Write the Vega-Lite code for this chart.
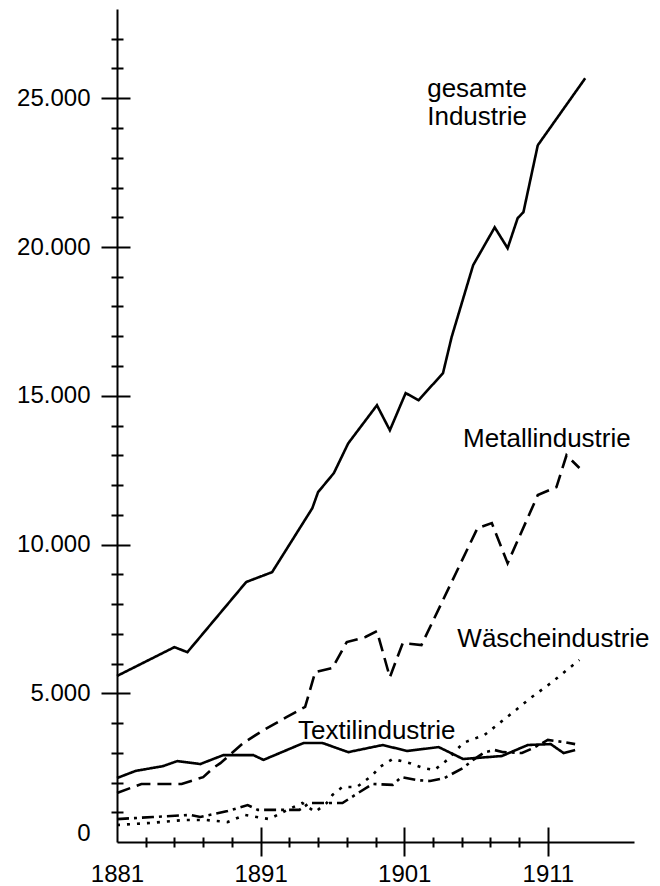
{
  "$schema": "https://vega.github.io/schema/vega-lite/v6.json",
  "width": 517,
  "height": 833,
  "autosize": "none",
  "padding": {"left": 117, "top": 9, "right": 26, "bottom": 44},
  "background": "white",
  "config": {
    "view": {"stroke": null},
    "axis": {"grid": false, "domainColor": "black", "tickColor": "black", "labelColor": "black", "domainWidth": 2, "tickWidth": 2, "title": null}
  },
  "datasets": {
    "series": [
      {"series": "gesamte Industrie", "year": 1881, "value": 5580},
      {"series": "gesamte Industrie", "year": 1885, "value": 6550},
      {"series": "gesamte Industrie", "year": 1885.9, "value": 6380},
      {"series": "gesamte Industrie", "year": 1890, "value": 8740},
      {"series": "gesamte Industrie", "year": 1891.8, "value": 9070},
      {"series": "gesamte Industrie", "year": 1894.6, "value": 11220},
      {"series": "gesamte Industrie", "year": 1895, "value": 11760},
      {"series": "gesamte Industrie", "year": 1896.1, "value": 12400},
      {"series": "gesamte Industrie", "year": 1897.1, "value": 13400},
      {"series": "gesamte Industrie", "year": 1899.1, "value": 14680},
      {"series": "gesamte Industrie", "year": 1900, "value": 13840},
      {"series": "gesamte Industrie", "year": 1901.1, "value": 15090},
      {"series": "gesamte Industrie", "year": 1902, "value": 14850},
      {"series": "gesamte Industrie", "year": 1903.7, "value": 15760},
      {"series": "gesamte Industrie", "year": 1904.3, "value": 16970},
      {"series": "gesamte Industrie", "year": 1905.8, "value": 19390},
      {"series": "gesamte Industrie", "year": 1907.3, "value": 20660},
      {"series": "gesamte Industrie", "year": 1908.2, "value": 19960},
      {"series": "gesamte Industrie", "year": 1908.9, "value": 20970},
      {"series": "gesamte Industrie", "year": 1909.3, "value": 21170},
      {"series": "gesamte Industrie", "year": 1910.3, "value": 23420},
      {"series": "gesamte Industrie", "year": 1913.6, "value": 25670},

      {"series": "Metallindustrie", "year": 1881, "value": 1650},
      {"series": "Metallindustrie", "year": 1882.7, "value": 1950},
      {"series": "Metallindustrie", "year": 1885.5, "value": 1950},
      {"series": "Metallindustrie", "year": 1887, "value": 2180},
      {"series": "Metallindustrie", "year": 1887.7, "value": 2490},
      {"series": "Metallindustrie", "year": 1888.2, "value": 2650},
      {"series": "Metallindustrie", "year": 1889.8, "value": 3330},
      {"series": "Metallindustrie", "year": 1891, "value": 3700},
      {"series": "Metallindustrie", "year": 1892.8, "value": 4200},
      {"series": "Metallindustrie", "year": 1894.1, "value": 4540},
      {"series": "Metallindustrie", "year": 1894.8, "value": 5710},
      {"series": "Metallindustrie", "year": 1896, "value": 5850},
      {"series": "Metallindustrie", "year": 1897, "value": 6720},
      {"series": "Metallindustrie", "year": 1898.3, "value": 6890},
      {"series": "Metallindustrie", "year": 1899.1, "value": 7090},
      {"series": "Metallindustrie", "year": 1900, "value": 5540},
      {"series": "Metallindustrie", "year": 1900.9, "value": 6690},
      {"series": "Metallindustrie", "year": 1902.2, "value": 6620},
      {"series": "Metallindustrie", "year": 1906.1, "value": 10550},
      {"series": "Metallindustrie", "year": 1907.1, "value": 10720},
      {"series": "Metallindustrie", "year": 1908.2, "value": 9370},
      {"series": "Metallindustrie", "year": 1910.3, "value": 11660},
      {"series": "Metallindustrie", "year": 1911.6, "value": 11930},
      {"series": "Metallindustrie", "year": 1912.3, "value": 13000},
      {"series": "Metallindustrie", "year": 1913.2, "value": 12570},

      {"series": "Textilindustrie", "year": 1881, "value": 2150},
      {"series": "Textilindustrie", "year": 1882.3, "value": 2390},
      {"series": "Textilindustrie", "year": 1884.2, "value": 2550},
      {"series": "Textilindustrie", "year": 1885.2, "value": 2720},
      {"series": "Textilindustrie", "year": 1886.8, "value": 2620},
      {"series": "Textilindustrie", "year": 1888.4, "value": 2920},
      {"series": "Textilindustrie", "year": 1890.5, "value": 2920},
      {"series": "Textilindustrie", "year": 1891.2, "value": 2760},
      {"series": "Textilindustrie", "year": 1894, "value": 3330},
      {"series": "Textilindustrie", "year": 1895.3, "value": 3330},
      {"series": "Textilindustrie", "year": 1897.1, "value": 3020},
      {"series": "Textilindustrie", "year": 1899.5, "value": 3260},
      {"series": "Textilindustrie", "year": 1901.2, "value": 3060},
      {"series": "Textilindustrie", "year": 1903.4, "value": 3190},
      {"series": "Textilindustrie", "year": 1905.1, "value": 2790},
      {"series": "Textilindustrie", "year": 1907.8, "value": 2890},
      {"series": "Textilindustrie", "year": 1909.6, "value": 3260},
      {"series": "Textilindustrie", "year": 1911.2, "value": 3290},
      {"series": "Textilindustrie", "year": 1912.1, "value": 2990},
      {"series": "Textilindustrie", "year": 1912.9, "value": 3090},

      {"series": "Wäscheindustrie", "year": 1881, "value": 570},
      {"series": "Wäscheindustrie", "year": 1883.3, "value": 640},
      {"series": "Wäscheindustrie", "year": 1885.7, "value": 740},
      {"series": "Wäscheindustrie", "year": 1887.2, "value": 740},
      {"series": "Wäscheindustrie", "year": 1888.7, "value": 670},
      {"series": "Wäscheindustrie", "year": 1889.9, "value": 910},
      {"series": "Wäscheindustrie", "year": 1891.6, "value": 770},
      {"series": "Wäscheindustrie", "year": 1893, "value": 1110},
      {"series": "Wäscheindustrie", "year": 1893.9, "value": 1310},
      {"series": "Wäscheindustrie", "year": 1894.8, "value": 1010},
      {"series": "Wäscheindustrie", "year": 1895.6, "value": 1310},
      {"series": "Wäscheindustrie", "year": 1896, "value": 1580},
      {"series": "Wäscheindustrie", "year": 1896.7, "value": 1850},
      {"series": "Wäscheindustrie", "year": 1897.7, "value": 1850},
      {"series": "Wäscheindustrie", "year": 1898.8, "value": 2250},
      {"series": "Wäscheindustrie", "year": 1899.3, "value": 2520},
      {"series": "Wäscheindustrie", "year": 1900.2, "value": 2790},
      {"series": "Wäscheindustrie", "year": 1901.4, "value": 2650},
      {"series": "Wäscheindustrie", "year": 1902.3, "value": 2490},
      {"series": "Wäscheindustrie", "year": 1903.1, "value": 2420},
      {"series": "Wäscheindustrie", "year": 1904, "value": 2760},
      {"series": "Wäscheindustrie", "year": 1905.1, "value": 3330},
      {"series": "Wäscheindustrie", "year": 1906.6, "value": 3600},
      {"series": "Wäscheindustrie", "year": 1908.6, "value": 4370},
      {"series": "Wäscheindustrie", "year": 1909.8, "value": 4840},
      {"series": "Wäscheindustrie", "year": 1911.2, "value": 5340},
      {"series": "Wäscheindustrie", "year": 1913.2, "value": 6120},

      {"series": "übrige", "year": 1881, "value": 770},
      {"series": "übrige", "year": 1883.5, "value": 840},
      {"series": "übrige", "year": 1886.1, "value": 910},
      {"series": "übrige", "year": 1886.8, "value": 840},
      {"series": "übrige", "year": 1888.7, "value": 1040},
      {"series": "übrige", "year": 1890.1, "value": 1240},
      {"series": "übrige", "year": 1890.8, "value": 1080},
      {"series": "übrige", "year": 1893.7, "value": 1080},
      {"series": "übrige", "year": 1894.4, "value": 1310},
      {"series": "übrige", "year": 1896.7, "value": 1310},
      {"series": "übrige", "year": 1897.9, "value": 1680},
      {"series": "übrige", "year": 1898.8, "value": 1950},
      {"series": "übrige", "year": 1900.2, "value": 1920},
      {"series": "übrige", "year": 1900.8, "value": 2180},
      {"series": "übrige", "year": 1901.9, "value": 2080},
      {"series": "übrige", "year": 1902.8, "value": 2050},
      {"series": "übrige", "year": 1903.8, "value": 2150},
      {"series": "übrige", "year": 1905.1, "value": 2490},
      {"series": "übrige", "year": 1905.8, "value": 2760},
      {"series": "übrige", "year": 1906.6, "value": 3020},
      {"series": "übrige", "year": 1907.3, "value": 3090},
      {"series": "übrige", "year": 1907.9, "value": 3020},
      {"series": "übrige", "year": 1909.2, "value": 2990},
      {"series": "übrige", "year": 1910, "value": 3160},
      {"series": "übrige", "year": 1911, "value": 3430},
      {"series": "übrige", "year": 1912.1, "value": 3360},
      {"series": "übrige", "year": 1912.9, "value": 3290}
    ],
    "labels": [
      {"label": "gesamte", "year": 1902.6, "value": 25030},
      {"label": "Industrie", "year": 1902.6, "value": 24090},
      {"label": "Metallindustrie", "year": 1905.1, "value": 13270},
      {"label": "Wäscheindustrie", "year": 1904.7, "value": 6550},
      {"label": "Textilindustrie", "year": 1893.6, "value": 3460}
    ]
  },
  "layer": [
    {
      "data": {"name": "series"},
      "mark": {"type": "line", "color": "black", "strokeWidth": 2.6, "strokeCap": "butt", "strokeJoin": "miter"},
      "encoding": {
        "x": {
          "field": "year", "type": "quantitative",
          "scale": {"domain": [1881, 1917], "nice": false, "zero": false},
          "axis": {
            "orient": "bottom",
            "values": [1881, 1883, 1885, 1887, 1889, 1891, 1893, 1895, 1897, 1899, 1901, 1903, 1905, 1907, 1909, 1911],
            "tickSize": {"condition": [{"test": "datum.value === 1881", "value": 0}, {"test": "(datum.value - 1881) % 10 === 0", "value": 14}], "value": 5},
            "labelPadding": {"condition": {"test": "datum.value === 1881", "value": 20}, "value": 6},
            "labelExpr": "(datum.value - 1881) % 10 === 0 ? '' + datum.value : ''",
            "labelFont": "Liberation Sans",
            "labelFontSize": 24,
            "labelBaseline": "top",
            "labelFlush": false,
            "labelOverlap": false,
            "domainWidth": 2
          }
        },
        "y": {
          "field": "value", "type": "quantitative",
          "scale": {"domain": [0, 28000], "nice": false},
          "axis": {
            "orient": "left",
            "values": [0, 1000, 2000, 3000, 4000, 5000, 6000, 7000, 8000, 9000, 10000, 11000, 12000, 13000, 14000, 15000, 16000, 17000, 18000, 19000, 20000, 21000, 22000, 23000, 24000, 25000, 26000, 27000],
            "tickSize": {"condition": [{"test": "datum.value === 0", "value": 0}, {"test": "datum.value % 5000 === 0", "value": 16}], "value": 6},
            "labelPadding": {"condition": {"test": "datum.value === 0", "value": 27}, "value": 11},
            "labelExpr": "datum.value % 5000 === 0 ? replace(format(datum.value, ','), ',', '.') : ''",
            "labelOffset": {"condition": {"test": "datum.value === 0", "value": -9}, "value": 0},
            "labelFont": "Liberation Sans",
            "labelFontSize": 24,
            "labelOverlap": false
          }
        },
        "strokeDash": {
          "field": "series", "type": "nominal",
          "scale": {
            "domain": ["gesamte Industrie", "Metallindustrie", "Textilindustrie", "Wäscheindustrie", "übrige"],
            "range": [[1, 0], [14, 7], [1, 0], [3, 7], [12, 5, 3, 5]]
          },
          "legend": null
        }
      }
    },
    {
      "data": {"name": "labels"},
      "mark": {"type": "text", "align": "left", "baseline": "alphabetic", "font": "Liberation Sans", "fontSize": 26, "color": "black"},
      "encoding": {
        "x": {
          "field": "year", "type": "quantitative",
          "axis": {
            "orient": "bottom",
            "values": [1883, 1885, 1887, 1889, 1891, 1893, 1895, 1897, 1899, 1901, 1903, 1905, 1907, 1909, 1911],
            "tickSize": {"condition": {"test": "(datum.value - 1881) % 10 === 0", "value": -15}, "value": -5},
            "labels": false,
            "domain": false
          }
        },
        "y": {
          "field": "value", "type": "quantitative",
          "axis": {
            "orient": "left",
            "values": [1000, 2000, 3000, 4000, 5000, 6000, 7000, 8000, 9000, 10000, 11000, 12000, 13000, 14000, 15000, 16000, 17000, 18000, 19000, 20000, 21000, 22000, 23000, 24000, 25000, 26000, 27000],
            "tickSize": {"condition": {"test": "datum.value % 5000 === 0", "value": -13}, "value": -6},
            "labels": false,
            "domain": false
          }
        },
        "text": {"field": "label", "type": "nominal"}
      }
    }
  ],
  "resolve": {"axis": {"x": "independent", "y": "independent"}}
}
